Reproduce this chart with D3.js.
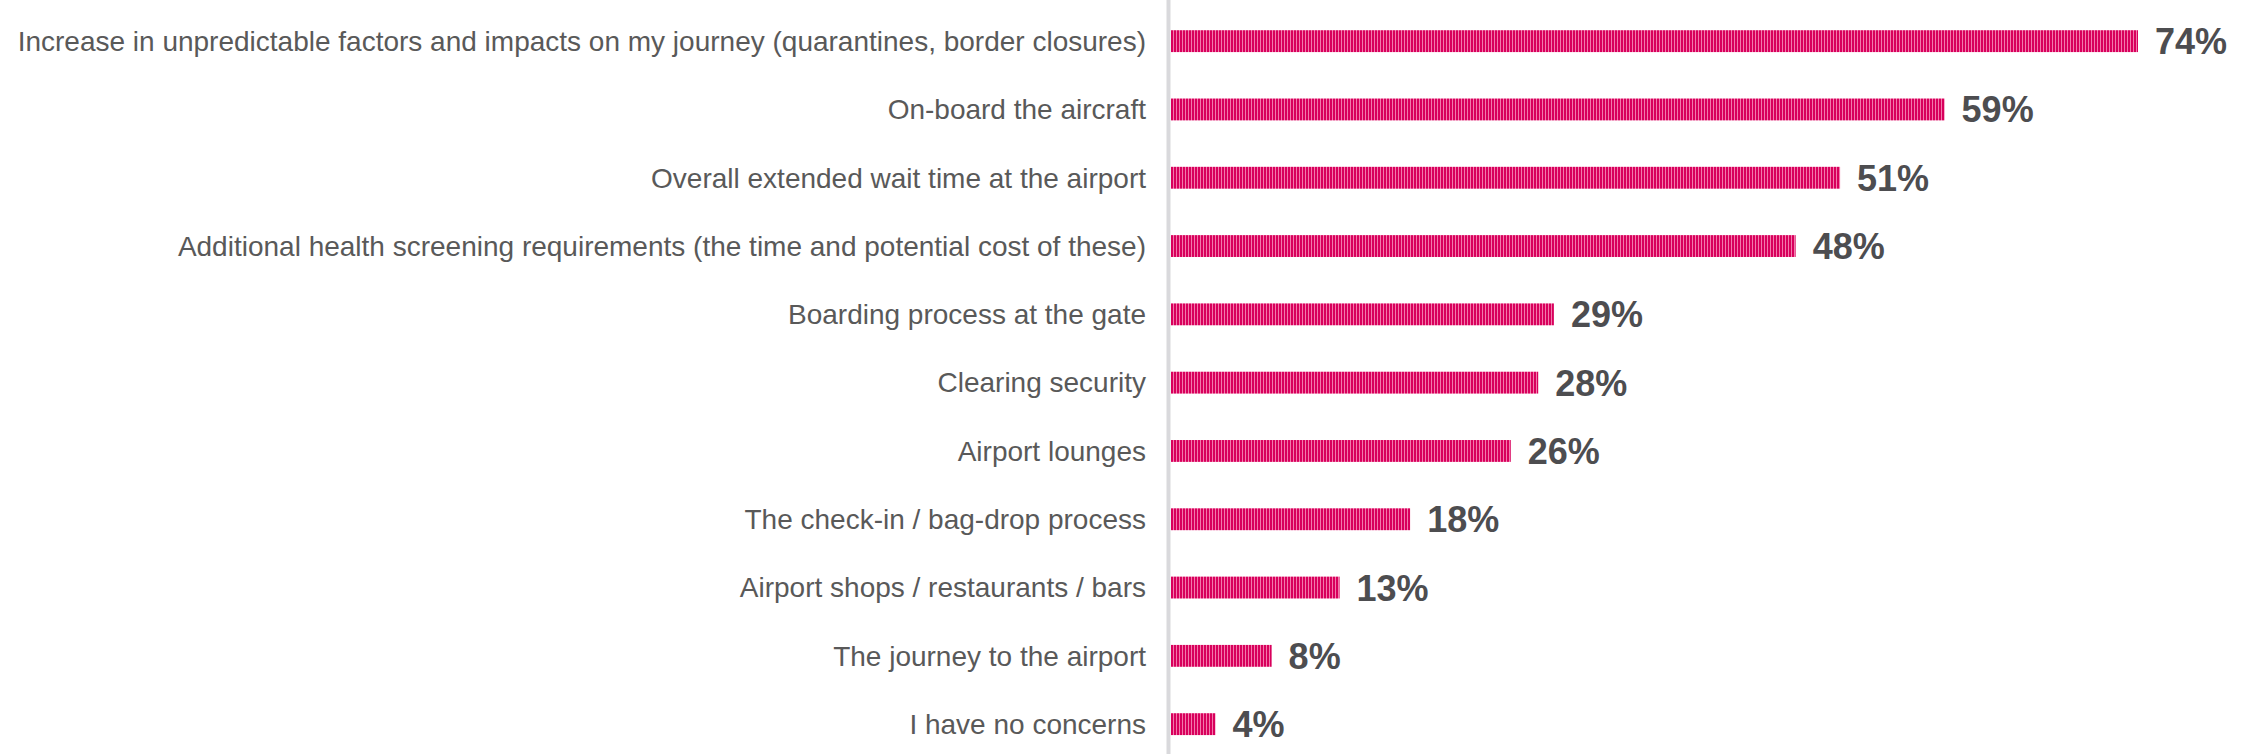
<!DOCTYPE html>
<html>
<head>
<meta charset="utf-8">
<script src="https://cdn.jsdelivr.net/npm/d3@7"></script>
<style>
  body { margin: 0; background: #fff; }
  svg { display: block; }
</style>
</head>
<body>
<div id="chart"></div>
<script>
// Chart data
var categories = [
    "Increase in unpredictable factors and impacts on my journey (quarantines, border closures)",
    "On-board the aircraft",
    "Overall extended wait time at the airport",
    "Additional health screening requirements (the time and potential cost of these)",
    "Boarding process at the gate",
    "Clearing security",
    "Airport lounges",
    "The check-in / bag-drop process",
    "Airport shops / restaurants / bars",
    "The journey to the airport",
    "I have no concerns"
];
var values = [74, 59.2, 51.2, 47.8, 29.3, 28.1, 26, 18.3, 12.9, 7.7, 3.4];
var valueLabels = ["74%", "59%", "51%", "48%", "29%", "28%", "26%", "18%", "13%", "8%", "4%"];

var svgWidth = 2252;
var svgHeight = 754;
var margin = { top: 7, right: 0, bottom: 0, left: 1171 };

var svg = d3.select("#chart")
    .append("svg")
    .attr("width", svgWidth)
    .attr("height", svgHeight);

// striped fill for the bars
var pattern = svg.append("defs").append("pattern")
    .attr("id", "stripes")
    .attr("patternUnits", "userSpaceOnUse")
    .attr("width", 3)
    .attr("height", 10);
pattern.append("rect").attr("width", 3).attr("height", 10).attr("fill", "#f27aab");
pattern.append("rect").attr("width", 2).attr("height", 10).attr("fill", "#d8005c");

var chartGroup = svg.append("g")
    .attr("transform", `translate(${margin.left}, ${margin.top})`);

var yScale = d3.scaleBand()
    .domain(categories)
    .range([0, 68.3 * categories.length])
    .paddingInner(0.68)
    .paddingOuter(0.34);

var xScale = d3.scaleLinear()
    .domain([0, 74])
    .range([0, 967]);

// bars
chartGroup.selectAll("rect.bar")
    .data(values)
    .enter()
    .append("rect")
    .attr("class", "bar")
    .attr("x", 0)
    .attr("y", (d, i) => yScale(categories[i]))
    .attr("width", d => xScale(d))
    .attr("height", yScale.bandwidth())
    .attr("fill", "url(#stripes)");

// axis line
chartGroup.append("line")
    .attr("x1", -2.5).attr("x2", -2.5)
    .attr("y1", -margin.top).attr("y2", svgHeight)
    .attr("stroke", "#d9d9dc")
    .attr("stroke-width", 4);

// category labels
chartGroup.selectAll("text.cat")
    .data(categories)
    .enter()
    .append("text")
    .attr("class", "cat")
    .attr("x", -25)
    .attr("y", d => yScale(d) + yScale.bandwidth() / 2)
    .attr("dy", "0.35em")
    .attr("text-anchor", "end")
    .attr("font-family", "Liberation Sans, Arial, sans-serif")
    .attr("font-size", "28px")
    .attr("fill", "#595959")
    .text(d => d);

// value labels
chartGroup.selectAll("text.val")
    .data(values)
    .enter()
    .append("text")
    .attr("class", "val")
    .attr("x", d => xScale(d) + 17)
    .attr("y", (d, i) => yScale(categories[i]) + yScale.bandwidth() / 2)
    .attr("dy", "0.36em")
    .attr("font-family", "Liberation Sans, Arial, sans-serif")
    .attr("font-size", "36px")
    .attr("font-weight", "bold")
    .attr("fill", "#4d4d50")
    .text((d, i) => valueLabels[i]);
</script>
</body>
</html>
